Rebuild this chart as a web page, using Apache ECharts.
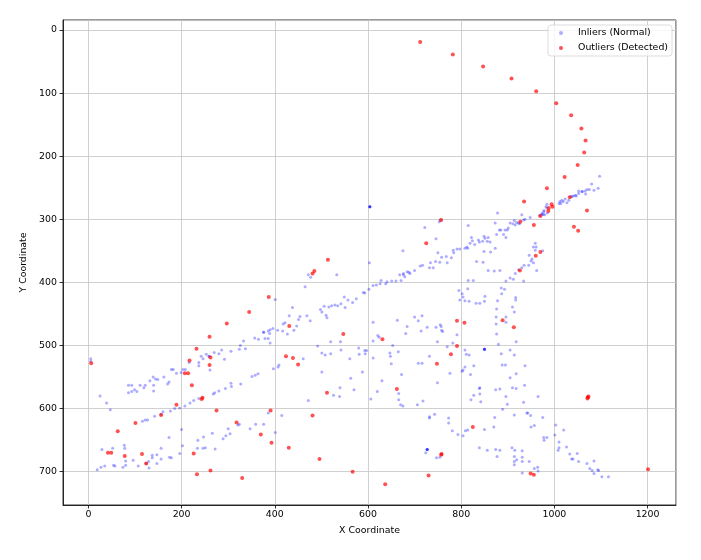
<!DOCTYPE html>
<html>
<head>
<meta charset="utf-8">
<script src="https://cdn.jsdelivr.net/npm/echarts@6/dist/echarts.min.js"></script>
<style>
  html, body { margin: 0; padding: 0; background: #fff; }
  #main { width: 701px; height: 560px; }
</style>
</head>
<body>
<div id="main"></div>
<script>
// inlier points [x, y]
const inliers = [
  // left part
  [5,521],[5,525],[25,580],[39,591],[47,602],
  [86,563],[93,563],[86,575],[93,573],[99,570],[104,573],[111,563],[119,567],[122,563],[132,556],[139,550],[144,553],[149,554],[140,563],[140,572],[162,550],[170,561],[173,558],[178,538],[182,538],[189,544],[199,543],[203,538],[208,538],[216,527],[237,527],[237,532],
  [116,620],[122,618],[127,618],[142,612],[156,609],[160,605],[176,604],[185,600],[196,599],[207,596],[218,591],[226,587],[237,584],
  [200,633],[173,646],[202,659],[235,650],[234,663],
  [19,697],[27,693],[35,691],[29,665],[52,663],[54,690],[57,691],[74,693],[77,658],[78,663],[80,683],[80,690],[96,682],[107,691],[124,687],[129,684],[130,694],[137,674],[137,678],[147,673],[147,687],[156,663],[156,680],[174,677],[178,678],[196,671],
  // middle part
  [472,388],[477,392],[533,388],[603,369],[465,407],[401,427],[438,440],[431,453],[451,459],[454,454],[469,453],[476,461],[447,469],[441,476],[427,482],[418,466],[422,464],[417,477],[406,476],[396,473],[390,475],[386,477],[376,479],[376,479],[389,481],[379,489],[386,489],[390,496],[365,490],[357,488],[333,493],[337,505],[326,500],[324,506],[306,509],[286,507],[280,513],[270,511],[292,522],[261,539],[246,521],[242,517],[253,514],[259,517],[259,517],
  [498,443],[501,447],[506,438],[510,452],[512,456],[516,439],[522,437],[529,436],[535,437],[542,434],[551,440],[549,423],[557,428],[567,432],[575,426],[590,416],[593,417],[602,411],[611,405],[618,404],[626,402],[628,397],[638,402],[641,399],[651,398],[660,398],[668,388],[676,386],[679,391],[684,383],[690,386],
  [611,463],[621,484],[624,487],[611,493],[663,460],[681,481],
  [492,501],[501,512],[508,515],[520,513],[520,494],[541,494],[542,507],[561,521],[580,504],[581,514],[593,508],[594,513],[597,508],[611,520],[647,512],[648,517],[650,529],[665,510],[653,500],[461,521],[409,531],[407,534],[397,537],
  [351,549],[358,547],[364,545],[327,561],[306,560],[307,565],[294,568],[280,572],[271,575],[268,577],
  [501,542],[588,542],[563,552],[540,567],[570,570],[620,573],[630,556],[666,576],[672,546],[666,586],[670,594],[675,596],[606,585],[539,581],[526,579],[472,587],
  [415,611],[386,607],[376,625],[359,625],[347,632],[324,625],[321,626],[300,632],[304,640],[295,643],[289,648],[266,639],[247,645],[401,638],
  [251,662],[272,664],[246,663],
  // upper band, right part
  [722,313],[746,331],[753,304],[755,301],[815,310],[675,350],
  [700,381],[712,374],[717,373],[732,377],[734,369],[740,377],[745,367],[750,353],[754,368],[758,360],[768,359],[770,369],[779,361],[783,349],[784,353],[791,347],[797,347],[808,346],[812,344],[814,346],[822,329],[819,338],[824,334],[829,340],[837,333],[839,336],[846,335],[849,327],[851,330],[856,335],[858,329],[862,336],[849,351],[863,352],[873,306],[873,346],[876,324],[878,290],[882,317],[885,317],[891,324],[894,317],[896,329],[899,317],[901,314],[905,306],[911,307],[914,302],[916,309],[919,305],[923,306],[925,307],
  [930,293],[934,301],[937,300],[948,297],[959,338],[955,344],[968,294],[973,291],[977,288],[979,293],[984,282],[984,276],[985,290],[973,293],[976,292],[978,286],[982,280],
  [1010,275],[1012,272],[1014,275],[1016,270],[1019,272],[1023,268],[1027,274],[1031,270],[1035,264],[1038,264],[1041,263],[1045,262],[1047,263],[1052,255],[1052,259],[1059,256],[1060,256],[1066,255],[1067,260],[1070,253],[1075,253],[1080,244],[1085,254],[1094,251],[1097,232],
  [671,397],[676,388],[688,384],
  // second band
  [815,397],[826,397],[833,367],[847,368],[858,381],[871,382],[883,381],[896,398],[905,393],[912,395],[916,386],[923,380],[934,398],[930,377],[935,373],[946,357],[950,366],[952,363],[955,369],[959,349],[961,344],[975,350],[962,381],[945,373],
  [795,413],[802,418],[814,410],[804,423],[797,428],[808,429],[817,430],[832,433],[840,433],[851,422],[850,430],[886,409],[893,411],[887,418],[878,429],[876,442],[875,455],[896,455],[896,463],[875,466],[910,439],[917,424],[917,428],[914,447],[918,494],[876,482],[880,498],[886,513],[905,507],[914,515],
  [700,455],[716,453],[708,461],[684,470],[714,477],[727,471],[746,471],[755,467],[757,470],[760,478],[758,476],[791,483],[749,494],[770,502],[782,496],[808,507],[817,515],[811,514],[732,517],
  // lower right
  [716,528],[708,528],[749,559],[776,544],[808,534],[804,539],[802,541],[820,546],[827,532],[840,567],[839,568],[840,577],[827,579],[821,586],[842,589],[718,588],[706,594],
  [888,531],[895,531],[918,545],[937,532],[905,551],[910,567],[918,568],[936,563],[896,581],[899,593],[934,590],[874,570],[883,569],[965,581],[889,601],[914,610],[941,607],[943,607],[949,611],[975,614],[950,629],[957,627],[978,650],[977,646],[984,646],[1003,626],[1020,634],[1001,642],[1010,653],[1010,662],[1008,666],[1026,661],[1033,672],[1040,680],[1037,680],[1049,671],[1052,684],[1070,687],[1085,683],[1076,695],[1085,703],[1081,698],[1093,697],[1095,698],[1102,708],[1116,708],
  [872,614],[870,629],[839,662],[856,666],[874,665],[883,666],[877,676],[909,662],[915,666],[914,676],[919,681],[914,684],[914,689],[931,667],[931,684],[931,677],[946,684],[957,695],[964,693],[965,699],[931,702],
  [804,643],[793,641],[809,635],[814,634],[781,635],[773,623],[773,615],[743,609],[732,613],[732,615],[724,670],[747,678],[754,677],[850,633],
  // repeated points (drawn darker)
  [604,280],[604,280],[604,280],[604,280],
  [850,506],[850,506],[850,506],[850,506],
  [727,665],[727,665],[727,665],[727,665]
];

// detected outliers [x, y]
const outliers = [
  [712,19],[782,39],[847,58],[908,77],[961,97],[1004,116],[1036,135],[1058,156],[1067,175],[1064,194],[1050,214],[1022,233],[984,251],[1033,265],[935,272],
  [994,276],[988,282],[996,280],[987,287],[1070,286],[970,295],[956,309],[927,304],[1042,312],[1051,318],[757,301],[725,338],[960,358],[970,352],[926,381],
  [514,364],[481,386],[485,382],
  [387,423],[345,447],[297,465],[260,486],[232,505],[262,519],[217,524],[260,531],[207,544],[214,544],[222,563],[6,528],[189,594],[156,610],[275,603],[391,603],
  [101,623],[63,636],[318,622],[370,641],[393,654],[430,662],[481,611],[496,680],[567,700],[547,482],[512,575],[431,469],[424,517],[439,520],[450,530],[245,583],[243,585],
  [42,670],[49,670],[78,675],[115,672],[124,687],[226,671],[233,704],[262,698],[330,710],
  [631,490],[791,461],[807,464],[889,460],[913,471],[791,501],[778,514],[748,529],[662,569],[1072,582],[1071,584],[1073,581],[825,629],[757,673],[758,672],
  [730,706],[637,720],[949,703],[956,705],[1201,696]
];

const seriesNames = ['Inliers (Normal)', 'Outliers (Detected)'];
const xRange = [-54.5, 1261];
const yRange = [-15.8, 752.8];

const font = 'DejaVu Sans';
const chart = echarts.init(document.getElementById('main'), null, { renderer: 'canvas' });

const axisCommon = {
  type: 'value',
  nameLocation: 'middle',
  nameTextStyle: { fontFamily: font, fontSize: 9.4, color: '#000' },
  axisLine: { show: true, onZero: false, lineStyle: { color: '#000', width: 0.8 } },
  axisTick: { show: true, inside: false, length: 3.5, lineStyle: { color: '#000', width: 0.8 } },
  axisLabel: {
    fontFamily: font, fontSize: 9.4, color: '#000',
    showMinLabel: false, showMaxLabel: false,
    formatter: function (v) { return String(v); }
  },
  splitLine: { show: true, lineStyle: { color: '#c4c4c4', width: 0.8 } }
};

chart.setOption({
  animation: false,
  backgroundColor: '#fff',
  grid: {
    left: 63, right: 25, top: 20, bottom: 55,
    show: true, borderColor: '#000', borderWidth: 0.8, backgroundColor: 'transparent'
  },
  legend: {
    data: seriesNames,
    orient: 'vertical',
    left: 548,
    top: 25,
    padding: [2, 4, 2, 11],
    itemWidth: 16,
    itemHeight: 4,
    itemGap: 3,
    icon: 'circle',
    backgroundColor: 'rgba(255,255,255,0.8)',
    borderColor: '#d4d4d4',
    borderWidth: 0.8,
    borderRadius: 3,
    textStyle: { fontFamily: font, fontSize: 9.4, color: '#000', lineHeight: 12, padding: [0, 0, 0, 4] }
  },
  xAxis: Object.assign({}, axisCommon, {
    name: 'X Coordinate',
    nameGap: 21,
    min: xRange[0],
    max: xRange[1],
    splitNumber: 6,
    axisLabel: Object.assign({}, axisCommon.axisLabel, { margin: 5 })
  }),
  yAxis: Object.assign({}, axisCommon, {
    name: 'Y Coordinate',
    nameGap: 28,
    inverse: true,
    min: yRange[0],
    max: yRange[1],
    splitNumber: 8,
    axisLabel: Object.assign({}, axisCommon.axisLabel, { margin: 6 })
  }),
  series: [
    {
      name: seriesNames[0],
      type: 'scatter',
      data: inliers,
      symbol: 'circle',
      symbolSize: 3,
      itemStyle: { color: 'rgba(0,0,255,0.4)' },
      z: 2
    },
    {
      name: seriesNames[1],
      type: 'scatter',
      data: outliers,
      symbol: 'circle',
      symbolSize: 4,
      itemStyle: { color: 'rgba(255,0,0,0.85)' },
      z: 3
    }
  ]
});
</script>
</body>
</html>
